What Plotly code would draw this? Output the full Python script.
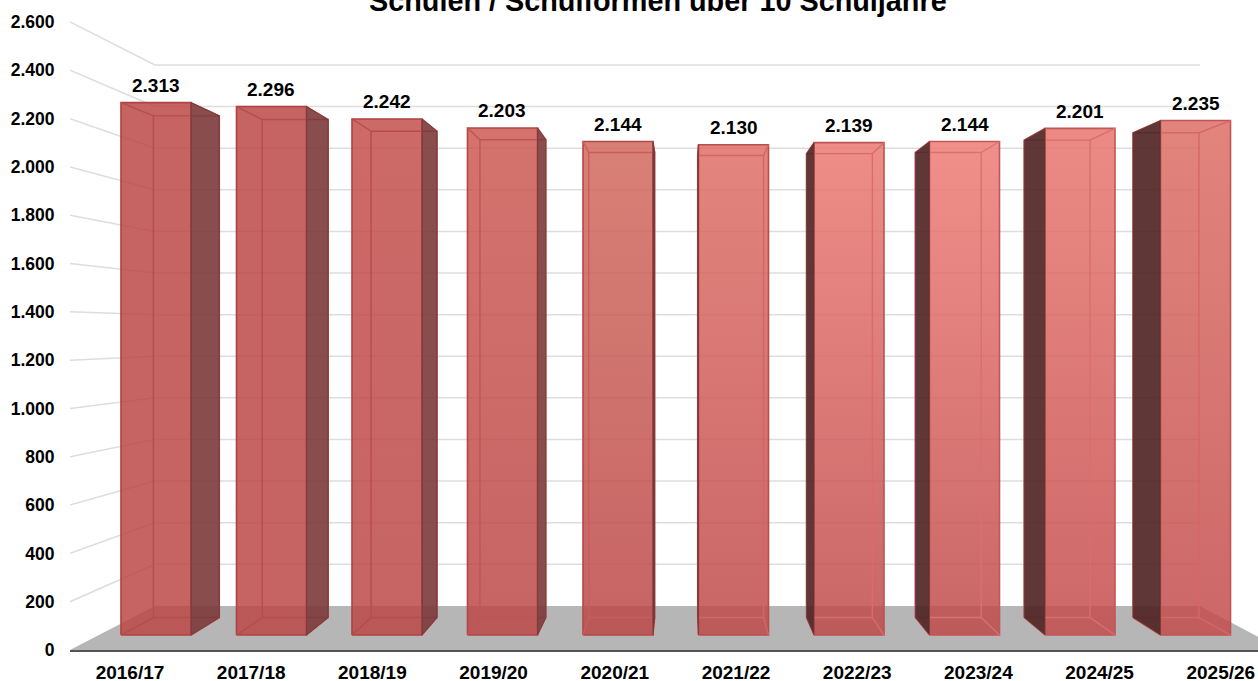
import plotly.graph_objects as go

# ---- data ----
school_years = ["2016/17", "2017/18", "2018/19", "2019/20", "2020/21",
                "2021/22", "2022/23", "2023/24", "2024/25", "2025/26"]
school_counts = [2313, 2296, 2242, 2203, 2144, 2130, 2139, 2144, 2201, 2235]
value_labels = ["2.313", "2.296", "2.242", "2.203", "2.144",
                "2.130", "2.139", "2.144", "2.201", "2.235"]
y_ticks = [0, 200, 400, 600, 800, 1000, 1200, 1400, 1600, 1800, 2000, 2200, 2400, 2600]
title_text = "Schulen / Schulformen über 10 Schuljahre"

# ---- styles: colour of a bar's front face seen over white, top / bottom ----
face_top = [(198, 100, 100), (198, 100, 100), (205, 106, 104), (212, 115, 110), (216, 128, 118),
            (228, 132, 126), (238, 142, 136), (241, 144, 138), (236, 138, 132), (226, 132, 124)]
face_bot = [(198, 100, 100), (198, 100, 100), (198, 100, 100), (198, 100, 100), (198, 100, 100),
            (200, 102, 102), (200, 102, 102), (200, 102, 102), (204, 104, 104), (204, 104, 104)]
side_col = [(138, 78, 78)] * 4 + [(120, 66, 66), (105, 58, 58)] + [(97, 55, 55)] * 4
edge_col = [(176, 66, 66)] * 3 + [(180, 70, 70), (180, 72, 72), (185, 78, 78), (190, 82, 82),
                                 (195, 86, 86), (195, 86, 86), (192, 84, 84)]
inner_col = [(184, 76, 76)] * 3 + [(192, 84, 84), (200, 94, 92), (210, 102, 100), (216, 108, 106),
                                  (220, 112, 110), (218, 110, 108), (212, 104, 102)]

ALPHA = 0.84


def rgba(c, a=ALPHA):
    vals = [round((ch - 255 * (1 - a)) / a) for ch in c]
    vals = [max(0, min(255, v)) for v in vals]
    return f"rgba({vals[0]},{vals[1]},{vals[2]},{a})"


def raw(c, a=1.0):
    return f"rgba({c[0]},{c[1]},{c[2]},{a})"


# ---- simple perspective: depth factor k shrinks everything to a vanishing point ----
X_VAN, Y_VAN = 4.562, 1316.6
K_BAR_FRONT, K_BAR_BACK, K_WALL = 0.953, 0.898, 0.8615
HALF_W = 0.303
X_LEFT, X_RIGHT = -0.495, 9.513
X_RANGE = [-0.495, 9.307]
Y_RANGE = [0, 2691]


def proj(x, v, k):
    return X_VAN + (x - X_VAN) * k, Y_VAN + (v - Y_VAN) * k


def poly(points):
    xs, ys = zip(*[proj(*p) for p in points])
    return list(xs) + [xs[0]], list(ys) + [ys[0]]


fig = go.Figure()


def add(xs, ys, **kw):
    fig.add_trace(go.Scatter(x=xs, y=ys, hoverinfo="skip", showlegend=False, **kw))


# floor
xs, ys = poly([(X_LEFT, 0, 1), (X_RIGHT, 0, 1), (X_RIGHT, 0, K_WALL), (X_LEFT, 0, K_WALL)])
add(xs, ys, mode="lines", fill="toself", fillcolor="#b6b6b6", line=dict(width=0))

# grid on side wall and back wall
gx, gy = [], []
for t in y_ticks[1:]:
    for p in [(X_LEFT, t, 1), (X_LEFT, t, K_WALL), (X_RIGHT, t, K_WALL)]:
        a, b = proj(*p)
        gx.append(a)
        gy.append(b)
    gx.append(None)
    gy.append(None)
add(gx, gy, mode="lines", line=dict(color="#dddddd", width=1.5))

# bars
for i, v in enumerate(school_counts):
    l, r = i - HALF_W, i + HALF_W
    right_side_visible = proj(r, 0, K_BAR_FRONT)[0] < proj(r, 0, K_BAR_BACK)[0]
    left_side_visible = proj(l, 0, K_BAR_BACK)[0] < proj(l, 0, K_BAR_FRONT)[0]
    side = rgba(side_col[i], 0.9)

    # front face with a vertical gradient
    xs, ys = poly([(l, 0, K_BAR_FRONT), (r, 0, K_BAR_FRONT), (r, v, K_BAR_FRONT), (l, v, K_BAR_FRONT)])
    add(xs, ys, mode="lines", fill="toself",
        fillgradient=dict(type="vertical",
                          colorscale=[[0, rgba(face_bot[i])], [1, rgba(face_top[i])]]),
        line=dict(color=raw(edge_col[i]), width=1.6))

    # back rectangle and connecting edges, seen through the front face
    xs, ys = poly([(l, 0, K_BAR_BACK), (r, 0, K_BAR_BACK), (r, v, K_BAR_BACK), (l, v, K_BAR_BACK)])
    ex, ey = list(xs), list(ys)
    for cx, cv in [(l, 0), (r, 0), (r, v), (l, v)]:
        a1, b1 = proj(cx, cv, K_BAR_FRONT)
        a2, b2 = proj(cx, cv, K_BAR_BACK)
        ex += [None, a1, a2]
        ey += [None, b1, b2]
    add(ex, ey, mode="lines", line=dict(color=raw(inner_col[i]), width=1.4))

    # dark side face, on top of the inner edges that lie outside the front face
    sx = r if right_side_visible else l
    if right_side_visible or left_side_visible:
        xs, ys = poly([(sx, 0, K_BAR_FRONT), (sx, v, K_BAR_FRONT), (sx, v, K_BAR_BACK), (sx, 0, K_BAR_BACK)])
        add(xs, ys, mode="lines", fill="toself", fillcolor=side,
            line=dict(color=raw((125, 60, 60), 0.85), width=1))

# value labels above each bar
annotations = []
for i, (v, lab) in enumerate(zip(school_counts, value_labels)):
    a, b = proj(i, v, K_BAR_FRONT)
    annotations.append(dict(x=a, y=b, xref="x", yref="y", text=lab, showarrow=False,
                            yanchor="middle", xanchor="center", yshift=17,
                            font=dict(family="Liberation Sans", size=19, color="#000000", weight="bold")))
annotations.append(dict(x=(658.5 - 130) / 121.2, y=1, xref="x", yref="paper", text=title_text, showarrow=False,
                        yanchor="middle", xanchor="center", yshift=-1,
                        font=dict(family="Liberation Sans", size=28.8, color="#000000", weight="bold")))

fig.update_layout(
    width=1258, height=681,
    margin=dict(l=70, r=0, t=0, b=31, pad=0, autoexpand=False),
    paper_bgcolor="#ffffff", plot_bgcolor="#ffffff",
    separators=",.",
    annotations=annotations,
    xaxis=dict(range=X_RANGE, tickmode="array", tickvals=list(range(len(school_years))), ticktext=school_years,
               showgrid=False, zeroline=False, showline=True, linecolor="#555555", linewidth=2,
               ticks="outside", ticklen=4, tickcolor="rgba(0,0,0,0)",
               tickfont=dict(family="Liberation Sans", size=19, color="#000000", weight="bold")),
    yaxis=dict(range=Y_RANGE, tickmode="array", tickvals=y_ticks, tickformat=",d",
               showgrid=False, zeroline=False, showline=False,
               ticks="outside", ticklen=11, tickcolor="rgba(0,0,0,0)",
               tickfont=dict(family="Liberation Sans", size=17.5, color="#000000", weight="bold")),
)

fig.write_html("out.html", config=dict(displayModeBar=False),
               post_script="document.body.style.margin='0';document.body.style.overflow='hidden';")
